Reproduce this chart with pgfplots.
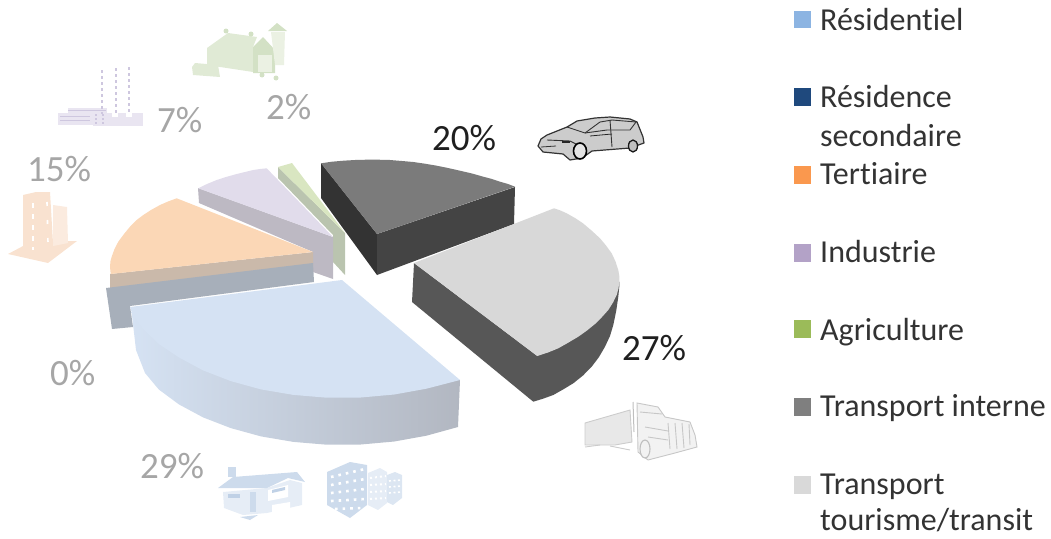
\documentclass[border=0pt]{standalone}
\usepackage{pgfplots}
\pgfplotsset{compat=1.18}
\usepackage{fontspec}
\setmainfont[Ligatures=NoCommon]{Carlito}

% Face colours of the exploded 3D pie
\definecolor{resTop}{HTML}{D5E2F3}
\definecolor{resEdge}{HTML}{A7AFBA}
\definecolor{resDarkRim}{HTML}{B2B7C1}
\definecolor{terTop}{HTML}{FBD7B6}
\definecolor{terSide}{HTML}{CAB9AA}
\definecolor{indTop}{HTML}{E1DCEB}
\definecolor{indSide}{HTML}{BDB9C3}
\definecolor{agrTop}{HTML}{D9E6C1}
\definecolor{agrSide}{HTML}{BAC4AF}
\definecolor{intTop}{HTML}{7B7B7B}
\definecolor{intLeft}{HTML}{333333}
\definecolor{intFront}{HTML}{444444}
\definecolor{touTop}{HTML}{D8D8D8}
\definecolor{touSide}{HTML}{575757}
\definecolor{lblGrey}{HTML}{A6A6A6}
\definecolor{lblDark}{HTML}{1F1F1F}
\definecolor{legText}{HTML}{333333}
% Legend keys
\definecolor{keyRes}{HTML}{8CB4E2}
\definecolor{keySec}{HTML}{1F497D}
\definecolor{keyTer}{HTML}{FA984E}
\definecolor{keyInd}{HTML}{B3A2C7}
\definecolor{keyAgr}{HTML}{9BBB59}
\definecolor{keyInt}{HTML}{7F7F7F}
\definecolor{keyTou}{HTML}{D9D9D9}
% Pictograms
\definecolor{icoBlue}{HTML}{CDDBEC}
\definecolor{icoBlueL}{HTML}{E6EDF6}
\definecolor{icoBlueD}{HTML}{C0D1E6}
\definecolor{icoLav}{HTML}{E9E5F1}
\definecolor{icoLavD}{HTML}{CEC7DF}
\definecolor{icoOr}{HTML}{F9E2D0}
\definecolor{icoOrL}{HTML}{FBEBDF}
\definecolor{icoGr}{HTML}{E0EAD5}
\definecolor{icoGrL}{HTML}{EBF1E3}
\definecolor{icoGrD}{HTML}{D3E1C5}

\newcommand{\pct}[4]{\node[anchor=base west,inner sep=0pt,text=#3,font=\fontsize{37}{37}\selectfont] at (axis cs:#1,#2) {#4};}
\newcommand{\legtxt}[2]{\node[anchor=base west,inner sep=0pt,text=legText,font=\fontsize{32}{32}\selectfont] at (axis cs:820,#1) {#2};}

\begin{document}
\begin{tikzpicture}
\begin{axis}[
  scale only axis, width=1051pt, height=538pt,
  xmin=0, xmax=1051, ymin=0, ymax=538, y dir=reverse,
  hide axis, clip=false]

% Page extent
\addplot[draw=none,forget plot] coordinates {(0,0) (1051,538)};
\path (axis cs:0,0) rectangle (axis cs:1051,538);

% Agriculture 2 %
\addplot[fill=agrSide,draw=none] coordinates {(278,167) (278,178) (333,235) (333,262) (345,275) (345,233)} --cycle;
\addplot[fill=agrTop,draw=none] coordinates {(278,167) (292,163) (345,233)} --cycle;

% Industrie 7 %
\addplot[fill=indSide,draw=none] coordinates {(198,188) (199,203) (313,252) (313,272) (333,279) (333,237)} --cycle;
\addplot[fill=indTop,draw=none] coordinates {(198.3,188.3) (207,184) (216.7,180) (226,177) (236.7,174) (245,172) (253.3,170) (260,169) (266.7,168.3) (333,237)} --cycle;

% Tertiaire 15 %
\addplot[fill=terSide,draw=none] coordinates {(110,274) (313,252) (313,266) (110,292)} --cycle;
\addplot[fill=terTop,draw=none] coordinates {(176.7,198.3) (313,252) (110.7,274) (110,266.7) (110.5,261) (111.7,256.7) (114.5,249) (118.3,241.7) (124,234) (130,226.7) (136,220.5) (143.3,215) (151,210) (160,205) (168,201.5)} --cycle;

% Transport interne 20 %
\addplot[fill=intLeft,draw=none] coordinates {(321,163) (377,234) (377,275) (321,198)} --cycle;
\addplot[fill=intFront,draw=none] coordinates {(377,234) (515,187) (514,224) (377,275)} --cycle;
\addplot[fill=intTop,draw=none] coordinates {(321,163.3) (332,161.7) (343.3,160.7) (355,160) (366.7,159.7) (378,159.7) (390,160) (402,161) (413.3,162) (425,163.7) (436.7,165.7) (448,168) (460,170.7) (472,173.5) (483.3,176.7) (492,179) (500,181.7) (508,184) (515,186.7) (377,234)} --cycle;

% Transport tourisme/transit 27 %
\addplot[fill=touSide,draw=none] coordinates {(414,263) (537.3,356) (619.3,281.7) (619.3,286.7) (618.3,296.7) (616.2,311) (613.3,325) (610,336) (605,346.7) (599,357) (591.7,366.7) (583,375.5) (573.3,383.3) (563,389.5) (553.3,395) (543,398.7) (533.3,401.7) (412,302)} --cycle;
\addplot[fill=touTop,draw=none] coordinates {(414,263) (554,208.3) (560.5,210.5) (566.7,213.3) (575,218) (583,223.3) (591.5,230.5) (600,238.3) (606,245.5) (611.7,253.3) (615.5,261.5) (618.3,270) (619.3,276) (619.3,281.7) (618.5,288.5) (616.7,295) (613,302.5) (608.3,310) (602,317) (595,324) (587,330.5) (578.3,336.7) (568.5,342.5) (558.3,348.3) (548,352.5) (537.3,356)} --cycle;

% Résidentiel 29 %: left face, shaded rim, top face
\addplot[fill=resEdge,draw=none] coordinates {(106,288) (313,263) (314,282) (130,306) (133,327) (112,329)} --cycle;
\addplot[left color=resTop,right color=resDarkRim,draw=none] coordinates {(131,307) (460,380) (458,427) (426.4,435.7) (394.3,441.5) (360.8,444.5) (326.9,444.7) (293.4,441.9) (261,436.4) (230.8,428.1) (203.1,417.4) (178.9,404.4) (158.8,389.5) (145,373) (136,350)} --cycle;
\addplot[fill=resTop,draw=none] coordinates {(130,307) (342,280) (460,380) (426.4,388.7) (394.3,394.5) (360.8,397.5) (326.9,397.7) (293.4,394.9) (261,389.4) (230.8,381.1) (203.1,370.4) (178.9,357.4) (158.8,344) (143.1,329) (135,318)} --cycle;

% Percentage labels
\pct{432}{150}{lblDark}{20\%}
\pct{622}{360}{lblDark}{27\%}
\pct{140}{478}{lblGrey}{29\%}
\pct{50}{385}{lblGrey}{0\%}
\pct{27}{181}{lblGrey}{15\%}
\pct{157}{132}{lblGrey}{7\%}
\pct{266}{119}{lblGrey}{2\%}

% Legend keys and entries
\fill[keyRes] (axis cs:794,10.5) rectangle (axis cs:811,28);
\fill[keySec] (axis cs:794,88) rectangle (axis cs:811,106);
\fill[keyTer] (axis cs:794,166) rectangle (axis cs:811,184);
\fill[keyInd] (axis cs:794,244) rectangle (axis cs:811,262);
\fill[keyAgr] (axis cs:794,320) rectangle (axis cs:811,338);
\fill[keyInt] (axis cs:794,398) rectangle (axis cs:811,416);
\fill[keyTou] (axis cs:794,476) rectangle (axis cs:811,494);
\legtxt{30}{Résidentiel}
\legtxt{107}{Résidence}
\legtxt{146.5}{secondaire}
\legtxt{184}{Tertiaire}
\legtxt{262.5}{Industrie}
\legtxt{340}{Agriculture}
\legtxt{416}{Transport interne}
\legtxt{494}{Transport}
\legtxt{530.5}{tourisme/transit}

% Car pictogram
\fill[color=black!20,draw=black!80,line width=1.2pt,line join=round]
  (538,146) -- (541,139) -- (547,135) -- (567,127) -- (577,121) -- (595,118) -- (610,117) -- (630,119) -- (637,122) -- (643,137) -- (644,143)
  -- (630,148) -- (592,151) -- (582,158) -- (570,160) -- (563,154) -- (543,152) -- cycle;
\draw[black!80,line width=0.9pt] (567,127) -- (585,133) -- (600,122) -- (612,120) -- (636,122);
\draw[black!80,line width=0.9pt] (585,133) -- (607,130) -- (630,130) -- (636,122);
\draw[black!80,line width=0.9pt] (610,120) -- (612,147);
\draw[black!80,line width=0.9pt] (547,140) -- (570,141) -- (578,145);
\draw[black!85,line width=1.6pt] (562,142) -- (570,142);
\draw[black!80,line width=0.8pt] (541,147) -- (556,146);
\draw[black!85,line width=0.8pt] (590,136) -- (612,134);
\fill[black!10,draw=black,line width=1.6pt] (580,151) ellipse [x radius=6.5pt,y radius=8pt];
\fill[black!25,draw=black!90,line width=1.3pt] (633,146) ellipse [x radius=4.5pt,y radius=6pt];

% Truck pictogram
\fill[color=black!9,draw=black!20,line width=0.9pt] (585,423) -- (630,410) -- (632,442) -- (615,445) -- (585,445) -- cycle;
\fill[color=black!5,draw=black!22,line width=0.9pt] (637,403) -- (658,407) -- (665,417) -- (690,422) -- (695,435) -- (697,447) -- (675,453) -- (648,460) -- (638,452) -- cycle;
\draw[black!25,line width=1pt] (633,402) -- (634,432);
\draw[black!22,line width=0.9pt] (668,423) -- (670,449) (675,423) -- (677,449) (682,423) -- (684,448) (689,424) -- (690,445);
\draw[black!22,line width=0.9pt] (640,412) -- (662,414) (645,427) -- (668,431) (648,437) -- (668,440);
\draw[black!20,line width=0.9pt] (585,447) -- (600,445) (610,446) -- (630,450);
\fill[black!5,draw=black!25,line width=1.1pt] (645,449) ellipse [x radius=5pt,y radius=9pt];

% House pictogram
\fill[icoBlueL] (223,492) -- (267,488) -- (290,480) -- (302,483) -- (302,505) -- (267,513) -- (243,515) -- (224,508) -- cycle;
\fill[icoBlue] (218,488) -- (233,477) -- (297,472) -- (305,482) -- (288,478) -- (267,488) -- cycle;
\fill[icoBlue] (228,467) rectangle (236,477);
\fill[icoBlueD] (228,494) rectangle (240,498);
\fill[icoBlue] (250,492) rectangle (256,512);
\fill[white] (268,490) -- (288,485) -- (288,497) -- (268,501) -- cycle;
\fill[icoBlueD] (272,490) -- (285,487) -- (285,490) -- (272,493) -- cycle;
\fill[white] (272,505) -- (290,502) -- (290,510) -- (272,513) -- cycle;
\fill[icoBlue] (240,517) -- (258,515) -- (250,520) -- cycle;

% Apartment block pictograms
\fill[icoBlue] (327,472) -- (350,462) -- (367,465) -- (367,505) -- (350,518) -- (327,505) -- cycle;
\draw[white,line width=2.6pt,dash pattern=on 2.6pt off 5pt] (331,477) -- (365,469) (331,485) -- (365,479) (331,493) -- (365,489) (331,501) -- (365,499) (335,509) -- (362,508);
\fill[icoBlueL] (368,473) -- (380,468) -- (387,472) -- (387,503) -- (378,510) -- (368,505) -- cycle;
\draw[white,line width=2pt,dash pattern=on 2pt off 3pt] (370,478) -- (386,476) (370,485) -- (386,484) (370,492) -- (386,491) (370,499) -- (386,498);
\fill[icoBlue!70!white] (387,475) -- (395,472) -- (402,475) -- (402,498) -- (393,505) -- (387,502) -- cycle;
\draw[white,line width=1.6pt,dash pattern=on 2pt off 2.5pt] (389,481) -- (401,480) (389,487) -- (401,486) (389,493) -- (401,492);

% Factory pictogram
\fill[icoLav] (58,113) rectangle (93,125);
\fill[icoLav] (68,108) rectangle (107,113);
\fill[icoLav] (93,113) rectangle (143,126);
\draw[icoLavD,line width=1pt] (60,116) -- (90,116) (60,120) -- (90,120) (68,110) -- (106,110);
\draw[icoLavD,line width=2.4pt,dash pattern=on 3pt off 3pt] (102,70) -- (102,114) (116,68) -- (116,114) (129,67) -- (129,114);
\draw[icoLavD,line width=2pt,dash pattern=on 2pt off 2pt] (96,114) -- (96,125) (103,114) -- (103,125);
\fill[white] (112,113) rectangle (118,117);
\fill[white] (126,113) rectangle (132,117);

% Tower pictogram
\fill[icoOr] (8,254) -- (25,245) -- (67,241) -- (77,241) -- (48,263) -- cycle;
\fill[icoOrL] (53,205) -- (67,207) -- (68,243) -- (53,246) -- cycle;
\fill[icoOr] (23,195) -- (36,192) -- (50,192) -- (53,243) -- (23,248) -- cycle;
\draw[white,line width=2.6pt,dash pattern=on 5pt off 6pt] (33,203) -- (33,250);
\draw[white,line width=1.6pt,dash pattern=on 4pt off 14pt] (47,202) -- (48,243);

% Barn pictogram
\fill[icoGr] (207,48) -- (228,33) -- (257,37) -- (253,47) -- (253,72) -- (207,65) -- cycle;
\fill[icoGrD] (253,47) -- (263,37) -- (275,50) -- (275,73) -- (253,73) -- cycle;
\fill[icoGrL] (258,55) rectangle (272,72);
\fill[icoGrL] (271,32) -- (285,32) -- (284,65) -- (275,65) -- cycle;
\fill[icoGrD] (268,31) -- (277,23) -- (287,31) -- cycle;
\fill[icoGr] (192,67) -- (195,63) -- (218,65) -- (220,77) -- (193,75) -- cycle;
\fill[icoGrD] (226,31) circle (2.5pt);
\fill[icoGrD] (251,34) circle (2.5pt);
\fill[icoGrD] (262,75) circle (2.5pt);
\fill[icoGrD] (276,78) circle (2.5pt);

\end{axis}
\end{tikzpicture}
\end{document}
